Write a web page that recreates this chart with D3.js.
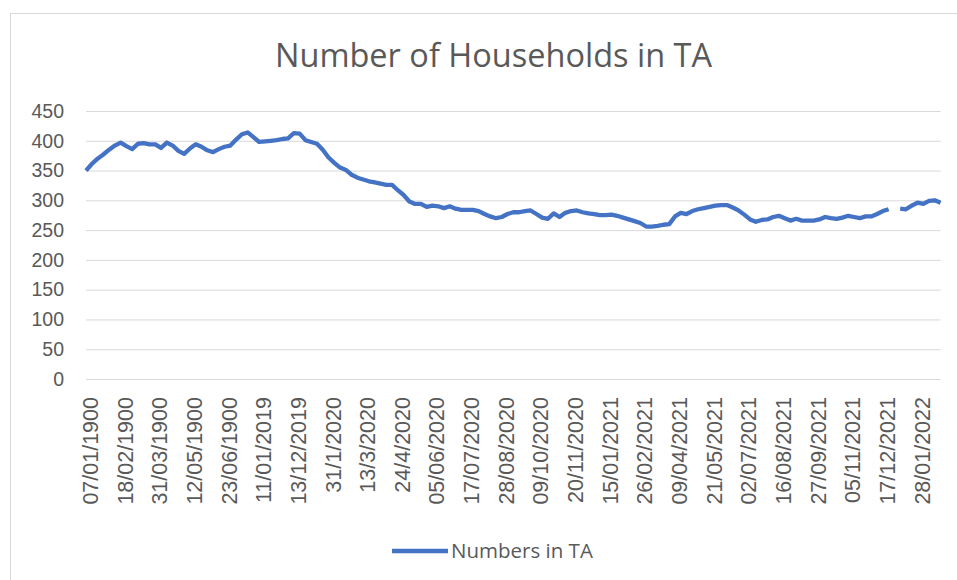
<!DOCTYPE html>
<html>
<head>
<meta charset="utf-8">
<script src="https://cdn.jsdelivr.net/npm/d3@7"></script>
<style>
  html, body { margin: 0; padding: 0; background: #fff; }
  svg { display: block; font-family: "Open Sans", "Noto Sans", sans-serif; }
</style>
</head>
<body>
<div id="chart"></div>
<script>
// weekly counts, one gap (missing week) left as null
const values = [
  350, 361, 370, 377, 385, 392, 397, 391, 386, 395,
  396, 394, 394, 388, 397, 392, 383, 378, 387, 394,
  390, 384, 381, 386, 390, 392, 402, 411, 414, 406,
  398, 399, 400, 401, 403, 404, 413, 412, 401, 398,
  395, 385, 372, 363, 355, 351, 343, 338, 335, 332,
  330, 328, 326, 326, 317, 309, 298, 294, 294, 289,
  291, 290, 287, 290, 286, 284, 284, 284, 282, 277,
  273, 270, 272, 277, 280, 280, 282, 283, 277, 271,
  269, 278, 272, 279, 282, 283, 280, 278, 277, 275,
  275, 276, 274, 271, 268, 265, 262, 256, 256, 257,
  259, 260, 273, 279, 277, 282, 285, 287, 289, 291,
  292, 292, 288, 283, 276, 268, 264, 267, 268, 272,
  274, 270, 266, 269, 266, 266, 266, 268, 272, 270,
  269, 271, 274, 272, 270, 273, 273, 277, 282, 285,
  null, 286, 285, 291, 296, 294, 299, 300, 296
];

// category labels shown on the axis (every 6th week)
const tickLabels = [
  '07/01/1900', '18/02/1900', '31/03/1900', '12/05/1900', '23/06/1900',
  '11/01/2019', '13/12/2019', '31/1/2020', '13/3/2020', '24/4/2020',
  '05/06/2020', '17/07/2020', '28/08/2020', '09/10/2020', '20/11/2020',
  '15/01/2021', '26/02/2021', '09/04/2021', '21/05/2021', '02/07/2021',
  '16/08/2021', '27/09/2021', '05/11/2021', '17/12/2021', '28/01/2022'
];
const labelEvery = 6;

const yTicks = [0, 50, 100, 150, 200, 250, 300, 350, 400, 450];

const chartTitle = 'Number of Households in TA';
const seriesName = 'Numbers in TA';

const width = 957;
const height = 580;
const plot = { left: 86, right: 940.6, top: 111, bottom: 379 };
const textColor = '#595959';
const gridColor = '#d9d9d9';
const lineColor = '#4472c4';

const svg = d3.select('#chart')
  .append('svg')
  .attr('width', width)
  .attr('height', height);

// chart frame (only top/left edges fall inside the picture)
svg.append('rect')
  .attr('x', 10.5)
  .attr('y', 13.5)
  .attr('width', width + 20)
  .attr('height', height + 20)
  .attr('fill', '#fff')
  .attr('stroke', gridColor);

const x = d3.scalePoint()
  .domain(d3.range(values.length))
  .range([plot.left, plot.right]);

const y = d3.scaleLinear()
  .domain([0, 450])
  .range([plot.bottom, plot.top]);

svg.append('text')
  .attr('x', 493.5)
  .attr('y', 67)
  .attr('text-anchor', 'middle')
  .attr('fill', textColor)
  .style('font-size', '32.5px')
  .text(chartTitle);

const yAxis = d3.axisLeft(y)
  .tickValues(yTicks)
  .tickSize(-(plot.right - plot.left))
  .tickPadding(22);

svg.append('g')
  .attr('class', 'yaxis')
  .attr('transform', `translate(${plot.left},0)`)
  .call(yAxis)
  .call(g => g.select('.domain').remove())
  .call(g => g.selectAll('.tick line').attr('stroke', gridColor))
  .call(g => g.selectAll('.tick text')
    .attr('fill', textColor)
    .style('font-size', '19.5px'));

const xAxis = d3.axisBottom(x)
  .tickValues(d3.range(0, values.length, labelEvery))
  .tickSize(0)
  .tickFormat(i => tickLabels[i / labelEvery]);

svg.append('g')
  .attr('class', 'xaxis')
  .attr('transform', `translate(0,${plot.bottom})`)
  .call(xAxis)
  .call(g => g.select('.domain').remove())
  .call(g => g.selectAll('.tick text')
    .attr('fill', textColor)
    .style('font-size', '21.5px')
    .attr('text-anchor', 'end')
    .attr('dy', '0.35em')
    .attr('transform', 'translate(1,18) rotate(-90)'));

const line = d3.line()
  .defined(d => d !== null)
  .x((d, i) => x(i))
  .y(d => y(d));

svg.append('path')
  .datum(values)
  .attr('fill', 'none')
  .attr('stroke', lineColor)
  .attr('stroke-width', 4.3)
  .attr('stroke-linejoin', 'round')
  .attr('d', line);

// legend
const legend = svg.append('g')
  .attr('transform', 'translate(392,551)');

legend.append('line')
  .attr('x1', 0)
  .attr('x2', 56)
  .attr('stroke', lineColor)
  .attr('stroke-width', 4.3);

legend.append('text')
  .attr('x', 59)
  .attr('dy', '0.35em')
  .attr('fill', textColor)
  .style('font-size', '20.5px')
  .text(seriesName);
</script>
</body>
</html>
